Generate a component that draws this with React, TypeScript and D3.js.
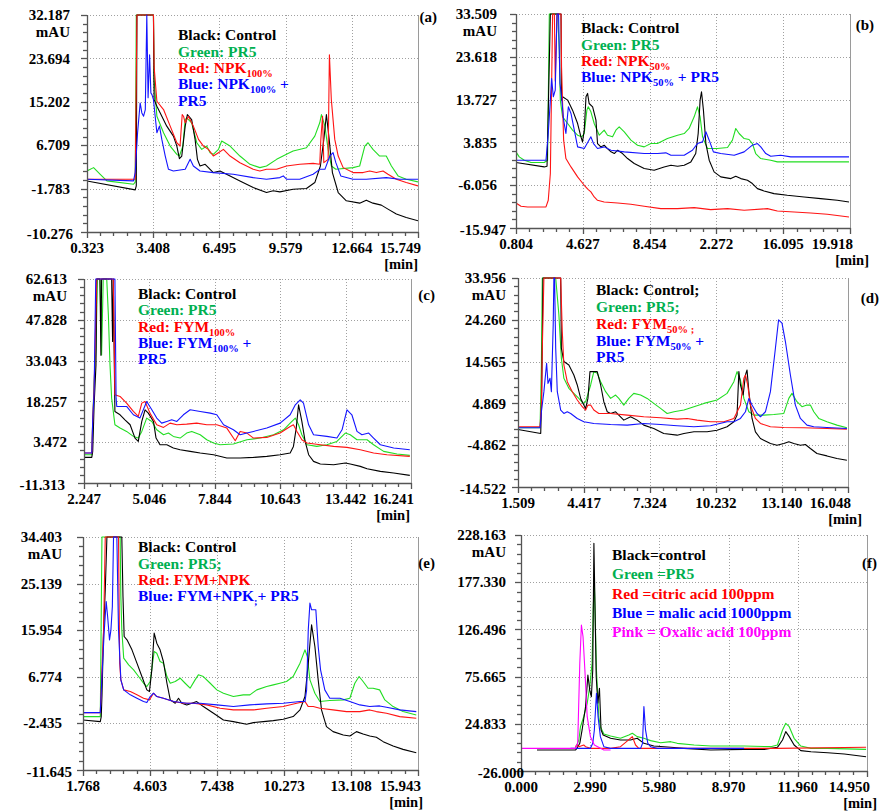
import React, { useEffect, useRef } from 'react';
import * as d3 from 'd3';

type Pt = [number, number];

// ---------- panel (a) ----------
const aXTicks = [0.323, 3.408, 6.495, 9.579, 12.664, 15.749];
const aYTicks = [32.187, 23.694, 15.202, 6.709, -1.783, -10.276];
const aLegend = ['Black: Control', 'Green: PR5', 'Red: NPK~100%~', 'Blue: NPK~100%~ +', 'PR5'];
const aLegendKeys = ['k', 'g', 'r', 'b', 'b'];
const aBlack: Pt[] = [[0.32,-0.28],[2.57,-2.03],[2.62,-1.25],[2.65,32.19],[3.42,32.19],[3.45,15.63],[3.58,14.33],[4.04,10.44],[4.35,8.49],[4.51,6.54],[4.63,4.07],[4.74,4.59],[4.90,10.44],[5.00,12.71],[5.20,11.73],[5.36,7.84],[5.47,3.94],[5.59,2.64],[5.83,2.97],[5.98,2.32],[6.21,1.35],[6.52,1.67],[6.99,0.70],[7.45,-0.28],[8.07,-1.58],[8.69,-2.55],[9.00,-2.22],[9.31,-2.42],[9.93,-1.90],[10.55,-1.77],[10.94,-0.60],[11.20,2.64],[11.36,7.84],[11.48,12.71],[11.61,7.84],[11.76,1.35],[12.03,-2.55],[12.41,-4.17],[13.03,-4.63],[13.34,-4.04],[13.65,-4.63],[14.04,-5.02],[14.35,-5.80],[14.74,-6.77],[15.20,-7.42],[15.75,-8.07]];
const aGreen: Pt[] = [[0.32,1.67],[0.63,2.32],[0.94,1.02],[1.25,-0.28],[2.49,-0.93],[2.57,-0.5],[2.62,32.19],[3.42,32.19],[3.45,19.53],[3.58,12.38],[3.89,9.14],[4.20,6.54],[4.51,4.92],[4.63,4.59],[4.79,6.54],[4.90,11.73],[4.97,12.06],[5.20,11.09],[5.44,7.19],[5.67,5.89],[5.90,6.54],[6.06,5.24],[6.21,4.92],[6.45,5.89],[6.60,7.52],[6.99,6.54],[7.45,4.59],[7.92,2.97],[8.38,2.32],[8.69,2.64],[9.16,3.94],[9.62,4.92],[9.93,5.57],[10.55,6.22],[10.94,8.49],[11.17,11.09],[11.25,12.71],[11.41,10.44],[11.56,5.89],[11.71,2.64],[11.92,1.99],[12.72,2.32],[13.03,2.64],[13.27,6.54],[13.42,7.19],[13.65,5.89],[13.96,4.59],[14.27,4.59],[14.51,2.64],[14.82,0.70],[15.20,0.05],[15.75,-0.47]];
const aRed: Pt[] = [[0.32,0.05],[2.57,0.05],[2.65,32.19],[3.42,32.19],[3.45,22.12],[3.58,15.31],[3.89,13.68],[4.20,10.44],[4.51,7.19],[4.66,6.54],[4.76,12.71],[4.82,12.38],[4.90,11.09],[5.05,12.38],[5.28,10.44],[5.52,7.84],[5.75,6.54],[5.98,5.89],[6.21,4.59],[6.45,5.24],[6.68,5.89],[6.99,4.59],[7.45,3.29],[8.07,1.99],[8.38,1.67],[8.69,1.99],[9.16,1.99],[9.62,2.64],[10.24,2.97],[10.86,3.16],[11.17,2.97],[11.22,7.84],[11.30,12.38],[11.36,3.29],[11.56,3.94],[11.62,24.40],[11.71,15.63],[11.87,7.84],[12.03,4.59],[12.26,2.32],[12.72,1.35],[13.19,1.35],[13.50,1.67],[13.81,1.35],[14.12,1.67],[14.35,1.02],[14.74,0.05],[15.20,-0.60],[15.75,-1.25]];
const aBlue: Pt[] = [[0.32,0.05],[2.49,-0.28],[2.57,1.35],[2.68,9.14],[2.80,14.98],[2.88,13.03],[2.96,12.38],[3.04,13.68],[3.11,32.19],[3.17,16.0],[3.24,24.40],[3.30,16.93],[3.35,16.6],[3.42,15.63],[3.50,12.38],[3.58,9.14],[3.70,10.44],[3.81,7.84],[3.97,4.59],[4.12,1.99],[4.35,1.67],[4.66,1.87],[4.90,1.99],[5.13,3.94],[5.28,2.64],[5.59,1.67],[6.21,1.35],[7.14,1.02],[8.07,0.37],[8.69,0.05],[9.31,0.37],[9.47,0.70],[9.62,0.05],[10.24,0.05],[10.86,1.02],[11.17,1.99],[11.41,1.99],[11.64,4.59],[11.79,5.24],[11.92,3.29],[12.15,0.70],[12.72,0.05],[13.34,0.05],[14.27,0.37],[14.89,0.05],[15.75,0.05]];

// ---------- panel (b) ----------
const bXTicks = [0.804, 4.627, 8.454, 12.272, 16.095, 19.918];
const bXTickText = ['0.804', '4.627', '8.454', '2.272', '16.095', '19.918'];
const bYTicks = [33.509, 23.618, 13.727, 3.835, -6.056, -15.947];
const bLegend = ['Black: Control', 'Green: PR5', 'Red: NPK~50%~', 'Blue: NPK~50%~ + PR5'];
const bLegendKeys = ['k', 'g', 'r', 'b'];
const bBlack: Pt[] = [[0.80,-0.82],[2.42,-1.83],[2.58,-1.67],[2.65,11.29],[2.77,33.51],[3.38,33.51],[3.41,13.61],[3.47,14.38],[3.76,13.61],[4.04,11.29],[4.33,8.20],[4.52,5.12],[4.61,3.96],[4.71,6.66],[4.81,14.38],[4.90,15.15],[4.99,12.83],[5.19,12.06],[5.38,8.98],[5.47,3.57],[5.66,2.80],[5.85,3.19],[6.04,2.42],[6.24,1.65],[6.43,1.26],[6.62,2.03],[6.90,1.26],[7.19,0.10],[7.57,-1.05],[8.14,-2.21],[8.71,-2.60],[9.28,-1.83],[9.67,-1.44],[10.05,-1.67],[10.43,-1.44],[10.81,-0.67],[11.09,1.26],[11.23,5.89],[11.34,13.61],[11.42,15.53],[11.53,11.29],[11.67,3.57],[11.86,-0.28],[12.14,-2.98],[12.52,-4.14],[13.10,-4.53],[13.38,-3.99],[13.67,-4.53],[14.05,-4.91],[14.33,-5.68],[14.62,-6.85],[15.00,-7.38],[15.57,-8.00],[16.33,-8.38],[17.29,-8.77],[18.24,-9.15],[19.19,-9.54],[19.86,-9.93]];
const bGreen: Pt[] = [[0.80,1.65],[0.99,0.49],[1.28,-0.28],[1.66,-0.82],[2.42,-0.82],[2.61,-0.28],[2.71,33.51],[3.19,33.51],[3.28,25.18],[3.34,13.61],[3.47,9.75],[3.76,8.20],[4.04,6.66],[4.33,5.50],[4.56,5.12],[4.71,5.89],[4.86,11.29],[4.94,12.06],[5.09,10.90],[5.28,8.20],[5.57,5.50],[5.85,6.66],[6.04,5.50],[6.33,5.12],[6.52,6.66],[6.71,7.43],[7.00,6.28],[7.38,4.35],[7.76,3.19],[8.14,2.80],[8.52,3.57],[8.90,3.57],[9.47,4.73],[10.05,5.50],[10.43,5.89],[10.71,7.05],[11.00,9.75],[11.19,12.06],[11.34,9.75],[11.48,5.12],[11.76,2.42],[12.33,2.42],[12.91,2.65],[13.19,4.35],[13.38,7.05],[13.57,5.89],[13.86,4.73],[14.14,4.50],[14.33,3.57],[14.52,1.26],[14.81,0.10],[15.38,-0.28],[15.76,-0.67],[19.86,-0.67]];
const bRed: Pt[] = [[0.80,-10.16],[1.09,-10.93],[1.47,-11.08],[2.52,-11.08],[2.65,-9.54],[2.77,-3.37],[2.90,33.51],[3.00,33.51],[3.05,18.0],[3.15,33.51],[3.38,33.51],[3.41,21.32],[3.53,4.35],[3.66,0.10],[3.95,-1.83],[4.33,-4.14],[4.71,-6.07],[4.94,-7.07],[5.09,-7.61],[5.28,-8.77],[5.47,-9.54],[5.85,-9.93],[6.62,-10.16],[7.38,-10.47],[8.14,-10.93],[9.09,-11.47],[10.05,-11.47],[11.00,-11.24],[11.95,-11.70],[12.91,-11.47],[13.86,-11.86],[15.19,-11.47],[15.76,-12.01],[16.72,-12.24],[17.67,-12.47],[18.62,-12.78],[19.86,-13.40]];
const bBlue: Pt[] = [[0.80,-0.28],[2.52,-0.28],[2.65,5.89],[2.77,13.61],[2.84,18.62],[2.94,14.38],[3.05,15.92],[3.15,33.51],[3.24,33.51],[3.32,17.46],[3.41,14.38],[3.53,8.98],[3.66,5.89],[3.80,12.06],[3.95,10.52],[4.14,6.66],[4.33,2.80],[4.71,2.42],[5.09,5.12],[5.24,3.57],[5.47,2.42],[5.85,2.80],[6.24,2.03],[7.00,1.65],[8.14,1.26],[8.90,1.26],[9.38,1.42],[9.67,0.88],[10.43,0.88],[10.90,2.03],[11.19,3.57],[11.48,3.96],[11.67,6.28],[11.86,4.35],[12.10,1.65],[12.52,1.26],[13.29,0.88],[13.86,1.65],[14.33,3.19],[14.62,3.57],[14.81,2.80],[15.10,1.26],[15.38,0.64],[15.95,0.88],[16.53,0.49],[17.67,0.49],[19.86,0.49]];

// ---------- panel (c) ----------
const cXTicks = [2.247, 5.046, 7.844, 10.643, 13.442, 16.241];
const cYTicks = [62.613, 47.828, 33.043, 18.257, 3.472, -11.313];
const cLegend = ['Black: Control', 'Green: PR5', 'Red: FYM~100%~', 'Blue: FYM~100%~ +', 'PR5'];
const cLegendKeys = ['k', 'g', 'r', 'b', 'b'];
const cBlack: Pt[] = [[2.25,-2.03],[2.58,-2.03],[2.62,0.14],[2.68,17.03],[2.76,31.50],[2.79,62.61],[2.93,62.61],[2.97,35.0],[3.00,62.61],[3.43,62.61],[3.47,40.0],[3.50,62.61],[3.57,14.61],[3.79,13.41],[4.00,11.60],[4.22,9.79],[4.43,4.97],[4.57,3.76],[4.72,11.00],[4.86,15.22],[5.00,14.01],[5.22,11.00],[5.33,4.97],[5.50,2.55],[5.79,2.55],[6.07,1.35],[6.36,0.75],[6.79,0.14],[7.22,-0.46],[7.79,-1.06],[8.36,-2.27],[8.93,-2.27],[9.50,-2.03],[10.07,-1.67],[10.64,-1.06],[11.07,-0.46],[11.21,1.95],[11.33,8.59],[11.43,17.03],[11.57,11.00],[11.71,3.76],[11.86,-1.06],[12.07,-3.48],[12.36,-4.45],[12.93,-4.68],[13.43,-4.08],[13.64,-4.45],[14.07,-5.29],[14.36,-6.13],[14.93,-7.09],[15.50,-7.70],[16.19,-8.54]];
const cGreen: Pt[] = [[2.25,-1.06],[2.58,-1.06],[2.62,11.0],[2.68,25.47],[2.76,37.53],[2.82,62.61],[2.93,62.61],[3.00,35.12],[3.07,62.61],[3.22,62.61],[3.29,49.59],[3.36,31.50],[3.43,19.44],[3.57,9.79],[3.79,8.59],[4.07,7.38],[4.36,5.57],[4.57,4.97],[4.72,7.38],[4.93,12.21],[5.15,11.00],[5.36,7.98],[5.65,6.17],[5.86,6.78],[6.07,5.57],[6.36,4.97],[6.64,6.78],[6.86,7.38],[7.22,6.17],[7.50,4.36],[7.79,3.16],[8.07,2.55],[8.64,2.80],[9.22,4.36],[9.79,4.97],[10.36,6.17],[10.79,7.98],[11.07,10.39],[11.29,12.21],[11.43,9.79],[11.57,6.17],[11.79,2.55],[12.21,1.95],[12.64,2.55],[13.07,3.76],[13.43,6.78],[13.64,6.17],[13.93,4.36],[14.36,4.36],[14.64,2.55],[15.07,0.14],[15.64,-0.82],[16.19,-1.31]];
const cRed: Pt[] = [[2.25,-0.46],[2.58,-0.46],[2.62,11.60],[2.68,23.06],[2.79,62.61],[3.50,62.61],[3.57,20.64],[3.79,20.04],[4.07,17.63],[4.36,14.61],[4.57,12.81],[4.72,17.63],[4.86,18.23],[5.07,14.01],[5.36,9.79],[5.65,8.83],[5.93,10.39],[6.22,9.79],[6.64,10.03],[7.07,10.39],[7.50,9.79],[7.93,9.79],[8.36,8.59],[8.72,4.00],[8.93,7.38],[9.22,6.78],[9.50,4.97],[10.07,5.21],[10.64,6.78],[11.07,9.19],[11.21,9.79],[11.36,7.38],[11.57,4.36],[11.79,3.16],[12.36,2.55],[12.93,1.95],[13.50,1.59],[14.07,0.75],[14.64,-0.46],[15.21,-1.06],[16.19,-1.67]];
const cBlue: Pt[] = [[2.25,-0.46],[2.58,-0.46],[2.62,11.60],[2.68,21.85],[2.75,62.61],[3.57,62.61],[3.62,19.44],[3.65,16.42],[4.07,16.42],[4.36,13.41],[4.64,12.21],[4.93,18.23],[5.15,15.22],[5.36,12.21],[5.57,10.39],[5.79,11.00],[6.00,11.60],[6.22,11.00],[6.50,13.41],[6.79,15.22],[7.22,14.61],[7.65,14.01],[7.93,13.41],[8.22,9.79],[8.64,7.98],[8.93,6.17],[9.22,6.78],[9.50,7.38],[10.07,8.59],[10.64,10.39],[11.07,13.41],[11.29,17.03],[11.50,18.84],[11.64,17.63],[11.86,9.79],[12.07,6.17],[12.64,5.57],[13.07,4.97],[13.29,7.98],[13.50,15.22],[13.71,13.41],[13.93,7.38],[14.14,6.17],[14.43,6.78],[14.64,4.97],[14.93,2.55],[15.50,1.35],[16.19,0.75]];

// ---------- panel (d) ----------
const dXTicks = [1.509, 4.417, 7.324, 10.232, 13.140, 16.048];
const dYTicks = [33.956, 24.260, 14.565, 4.869, -4.862, -14.522];
const dLegend = ['Black: Control;', 'Green: PR5;', 'Red: FYM~50% ;~', 'Blue: FYM~50%~ +', 'PR5'];
const dLegendKeys = ['k', 'g', 'r', 'b', 'b'];
const dBlack: Pt[] = [[1.51,-1.18],[2.51,-2.11],[2.55,6.03],[2.61,33.96],[3.39,33.96],[3.42,17.67],[3.53,14.57],[3.75,13.79],[3.97,11.46],[4.12,9.14],[4.27,6.03],[4.41,4.48],[4.49,3.71],[4.59,6.03],[4.68,12.24],[4.78,12.24],[5.00,12.24],[5.15,9.14],[5.29,5.26],[5.44,2.93],[5.59,2.54],[5.81,2.93],[5.95,2.15],[6.17,0.99],[6.47,1.77],[6.76,0.99],[7.05,-0.17],[7.49,-0.95],[7.93,-2.11],[8.52,-2.50],[8.82,-2.11],[9.26,-1.72],[9.84,-1.72],[10.28,-1.34],[10.72,-0.56],[11.02,0.60],[11.16,2.15],[11.24,12.24],[11.31,9.14],[11.43,6.81],[11.53,11.46],[11.60,12.63],[11.68,7.59],[11.82,1.38],[11.97,-1.72],[12.19,-3.27],[12.63,-4.44],[12.92,-4.83],[13.22,-4.44],[13.44,-4.05],[13.66,-4.44],[13.95,-4.83],[14.17,-4.67],[14.39,-5.60],[14.68,-6.76],[15.12,-7.31],[15.56,-7.93],[16.00,-8.32]];
const dGreen: Pt[] = [[1.51,-0.79],[2.48,-0.79],[2.54,13.79],[2.58,33.96],[3.17,33.96],[3.31,25.42],[3.42,15.34],[3.53,10.69],[3.75,8.36],[3.97,7.20],[4.19,6.03],[4.38,4.87],[4.49,5.26],[4.71,9.14],[4.85,12.24],[5.00,11.85],[5.15,9.91],[5.37,7.59],[5.59,6.03],[5.81,6.81],[5.95,6.03],[6.17,4.48],[6.39,6.03],[6.61,7.20],[6.91,6.81],[7.20,6.03],[7.49,4.87],[7.79,3.71],[8.08,2.54],[8.38,2.93],[8.82,3.32],[9.26,4.10],[9.70,4.87],[10.28,5.65],[10.72,7.20],[11.02,9.91],[11.16,12.24],[11.31,10.30],[11.46,6.03],[11.68,2.93],[11.90,2.15],[12.34,2.15],[12.78,2.31],[13.22,2.54],[13.44,6.03],[13.58,7.20],[13.80,5.26],[14.02,4.10],[14.24,4.48],[14.39,4.48],[14.54,2.93],[14.76,1.38],[15.12,0.60],[15.56,-0.17],[16.00,-0.79]];
const dRed: Pt[] = [[1.51,-0.56],[2.48,-0.56],[2.54,4.48],[2.58,17.67],[2.65,33.96],[3.39,33.96],[3.46,21.55],[3.53,13.79],[3.68,9.91],[3.90,7.59],[4.12,5.65],[4.34,4.10],[4.49,3.32],[4.59,4.48],[4.71,4.48],[4.85,3.32],[5.07,2.54],[5.59,2.54],[6.32,2.15],[7.05,1.77],[7.79,1.53],[8.52,1.22],[8.96,1.38],[9.40,0.99],[9.99,0.60],[10.58,0.60],[11.02,1.38],[11.31,4.48],[11.46,10.69],[11.53,11.46],[11.63,9.14],[11.75,4.48],[11.97,1.38],[12.19,0.22],[12.63,-0.56],[13.22,-0.71],[14.10,-0.79],[15.12,-0.95],[16.00,-1.10]];
const dBlue: Pt[] = [[1.51,-0.79],[2.48,-0.79],[2.54,2.93],[2.65,7.59],[2.77,14.18],[2.83,9.52],[2.92,10.69],[2.98,7.59],[3.06,23.10],[3.09,33.96],[3.12,33.96],[3.17,17.67],[3.24,7.59],[3.39,3.32],[3.53,2.54],[3.68,2.93],[3.83,2.54],[4.12,1.38],[4.41,0.60],[4.85,0.22],[5.59,-0.02],[6.32,-0.17],[7.05,0.22],[7.79,-0.02],[8.52,-0.33],[9.26,-0.56],[9.99,-0.33],[10.72,0.60],[11.02,0.60],[11.31,1.38],[11.53,2.93],[11.68,6.03],[11.82,4.48],[12.04,2.54],[12.19,1.77],[12.41,2.93],[12.63,7.59],[12.85,17.67],[12.99,24.26],[13.14,23.48],[13.29,19.22],[13.51,11.46],[13.73,4.48],[13.95,1.38],[14.24,-0.17],[14.54,-0.56],[15.12,-0.71],[16.00,-0.95]];

// ---------- panel (e) ----------
const eXTicks = [1.768, 4.603, 7.438, 10.273, 13.108, 15.943];
const eYTicks = [34.403, 25.139, 15.954, 6.774, -2.435, -11.645];
const eLegend = ['Black: Control', 'Green: PR5;', 'Red: FYM+NPK', 'Blue: FYM+NPK~;~+ PR5'];
const eLegendKeys = ['k', 'g', 'r', 'b'];
const eBlack: Pt[] = [[1.77,-1.75],[2.50,-2.08],[2.54,-1.09],[2.57,2.87],[2.64,16.06],[2.71,23.98],[2.78,34.40],[3.41,34.40],[3.46,22.66],[3.51,14.74],[3.63,14.08],[3.84,12.10],[4.05,9.47],[4.26,6.83],[4.47,4.19],[4.58,3.86],[4.68,8.15],[4.78,15.40],[4.89,13.42],[5.03,12.10],[5.17,9.80],[5.32,5.50],[5.46,2.21],[5.67,1.55],[5.81,2.54],[5.95,1.55],[6.16,1.22],[6.37,1.55],[6.58,1.88],[6.86,0.89],[7.29,-0.43],[7.71,-1.75],[8.13,-2.08],[8.69,-2.61],[8.98,-2.28],[9.40,-2.08],[9.82,-1.88],[10.24,-1.62],[10.66,-1.09],[10.95,0.23],[11.16,2.87],[11.30,9.47],[11.44,17.05],[11.58,12.76],[11.72,6.17],[11.86,0.23],[12.07,-3.07],[12.35,-4.06],[12.78,-4.72],[13.06,-4.92],[13.34,-4.06],[13.62,-4.52],[13.90,-4.92],[14.18,-5.18],[14.47,-6.04],[14.89,-6.90],[15.31,-7.57],[15.87,-8.23]];
const eGreen: Pt[] = [[1.77,-1.09],[2.50,-1.09],[2.57,34.40],[3.34,34.40],[3.37,22.66],[3.41,16.06],[3.49,10.46],[3.70,9.14],[3.91,8.15],[4.12,6.83],[4.33,5.50],[4.47,4.85],[4.61,5.84],[4.78,11.77],[4.89,11.44],[5.03,9.80],[5.17,9.47],[5.32,6.83],[5.46,5.50],[5.67,5.84],[5.88,6.50],[6.09,5.50],[6.30,4.52],[6.51,6.17],[6.65,7.16],[6.86,6.83],[7.15,5.50],[7.43,4.19],[7.71,3.53],[8.13,2.87],[8.55,3.21],[8.83,3.21],[9.12,4.19],[9.54,4.85],[9.82,5.18],[10.10,5.50],[10.38,5.84],[10.66,6.83],[10.95,9.47],[11.16,12.10],[11.26,10.78],[11.37,6.17],[11.58,3.53],[11.79,1.88],[12.21,2.08],[12.78,2.21],[13.06,2.54],[13.27,5.50],[13.45,6.83],[13.62,5.84],[13.83,4.52],[14.04,4.52],[14.32,4.19],[14.54,2.21],[14.89,0.89],[15.31,-0.10],[15.87,-0.76]];
const eRed: Pt[] = [[1.77,-0.30],[2.50,-0.30],[2.57,8.15],[2.64,16.06],[2.71,34.40],[3.27,34.40],[3.32,9.47],[3.37,6.17],[3.49,4.19],[3.77,3.86],[4.05,3.21],[4.33,2.54],[4.58,2.21],[4.75,3.53],[4.89,2.87],[5.17,2.54],[5.60,1.88],[6.02,1.55],[6.44,1.55],[7.00,1.22],[7.57,0.56],[8.13,0.23],[8.98,0.23],[9.54,0.56],[10.24,0.89],[10.81,1.55],[11.16,1.88],[11.30,0.89],[11.51,0.89],[11.79,0.56],[12.35,0.23],[12.92,-0.10],[13.48,-0.10],[13.90,0.23],[14.18,-0.10],[14.61,-0.43],[15.17,-1.09],[15.87,-1.42]];
const eBlue: Pt[] = [[1.77,-0.30],[2.50,-0.30],[2.57,6.83],[2.67,16.06],[2.75,21.67],[2.81,18.70],[2.89,14.08],[2.95,16.06],[3.01,20.68],[3.06,34.40],[3.20,34.40],[3.27,16.06],[3.37,6.17],[3.49,4.19],[3.77,3.21],[4.05,2.54],[4.33,1.88],[4.47,1.68],[4.61,2.87],[4.75,3.53],[4.89,2.87],[5.17,2.54],[5.60,1.88],[6.16,1.55],[6.72,1.55],[7.43,1.22],[8.13,0.89],[8.83,1.22],[9.54,1.42],[10.24,1.55],[10.95,1.88],[11.16,1.88],[11.23,4.19],[11.30,16.06],[11.37,21.34],[11.44,20.02],[11.62,20.02],[11.72,12.76],[11.82,8.15],[12.00,4.19],[12.21,2.54],[12.64,2.54],[13.06,1.88],[13.48,1.22],[13.90,0.89],[14.32,1.02],[14.61,0.76],[15.17,0.23],[15.87,-0.10]];

// ---------- panel (f) ----------
const fXTicks = [0.0, 2.99, 5.98, 8.97, 11.96, 14.95];
const fYTicks = [228.163, 177.33, 126.496, 75.665, 24.833, -26.0];
const fLegend = ['Black=control', 'Green =PR5', 'Red =citric acid 100ppm', 'Blue = malic acid 1000ppm', 'Pink = Oxalic acid 100ppm'];
const fLegendKeys = ['k', 'g', 'r', 'b', 'p'];
const fBlack: Pt[] = [[0.69,-3.4],[2.35,-3.4],[2.42,-1.6],[2.54,3.8],[2.64,18.2],[2.79,43.3],[2.89,77.4],[2.97,61.2],[3.04,54.0],[3.10,82.8],[3.15,219.2],[3.19,161.8],[3.25,75.6],[3.32,46.9],[3.39,63.0],[3.46,18.2],[3.55,12.8],[3.87,9.2],[4.30,7.4],[4.73,7.4],[5.02,9.2],[5.31,3.8],[5.74,0.9],[6.47,-0.5],[7.04,-1.6],[8.20,-3.4],[9.64,-2.7],[10.51,-2.7],[11.08,-0.5],[11.30,7.4],[11.44,16.4],[11.59,11.0],[11.80,2.0],[12.09,-4.1],[12.53,-5.2],[13.25,-6.3],[13.97,-7.7],[14.91,-10.6]];
const fGreen: Pt[] = [[2.35,-1.6],[2.50,7.4],[2.57,21.7],[2.71,32.5],[2.86,46.9],[2.97,64.8],[3.07,89.9],[3.12,149.2],[3.17,176.1],[3.26,82.8],[3.36,32.5],[3.43,21.7],[3.58,13.8],[3.87,11.7],[4.30,9.2],[4.66,12.8],[4.81,14.6],[5.02,11.0],[5.31,9.2],[5.60,6.7],[6.03,4.5],[6.47,5.6],[6.75,3.8],[7.48,2.0],[8.20,0.9],[9.64,0.9],[10.79,0.2],[11.08,2.0],[11.30,18.2],[11.44,25.3],[11.59,21.7],[11.80,9.2],[12.09,0.9],[12.53,-1.6],[13.25,-1.6],[14.91,-2.7]];
const fRed: Pt[] = [[2.35,0.2],[2.42,2.0],[2.50,0.2],[2.71,2.0],[2.79,0.2],[3.00,-1.6],[3.87,-1.6],[4.30,0.2],[4.56,5.6],[4.81,11.0],[4.95,2.0],[5.09,-1.6],[6.75,-1.6],[11.08,-1.6],[14.91,-0.5]];
const fBlue: Pt[] = [[2.14,-1.6],[3.00,-1.6],[3.10,3.8],[3.17,18.2],[3.26,57.6],[3.33,32.5],[3.43,11.0],[3.58,0.2],[3.87,-1.6],[5.17,-1.6],[5.25,3.8],[5.31,43.3],[5.38,18.2],[5.48,3.8],[5.60,0.2],[5.89,-1.6],[6.75,-1.6],[9.64,-1.6]];
const fPink: Pt[] = [[0.0,-1.6],[2.35,-1.6],[2.45,3.8],[2.54,89.9],[2.61,131.2],[2.68,118.7],[2.76,82.8],[2.86,32.5],[3.00,11.0],[3.17,2.0],[3.58,-3.4],[3.87,-3.4]];

// ---------- styles / layout ----------
const FONT = '"Liberation Serif", "Times New Roman", serif';
const LINE_COLORS: Record<string, string> = { k: '#000000', g: '#22dd22', r: '#ff1414', b: '#1414ff', p: '#ff00ff' };
const TEXT_COLORS: Record<string, string> = { k: '#000000', g: '#00b050', r: '#ff0000', b: '#0000ff', p: '#ff00ff' };

const PANELS = [
  { letter: '(a)', xTicks: aXTicks, xText: null, yTicks: aYTicks, legend: aLegend, legendKeys: aLegendKeys,
    series: [['g', aGreen], ['k', aBlack], ['r', aRed], ['b', aBlue]],
    box: { left: 87, right: 418, top: 15, bottom: 232 }, gap: 17, bottomGap: 14, minDx: 0,
    letterPos: [437, 17], legendPos: [178, 35, 16.4] },
  { letter: '(b)', xTicks: bXTicks, xText: bXTickText, yTicks: bYTicks, legend: bLegend, legendKeys: bLegendKeys,
    series: [['g', bGreen], ['k', bBlack], ['r', bRed], ['b', bBlue]],
    box: { left: 516, right: 850, top: 14, bottom: 228 }, gap: 19, bottomGap: 10, minDx: 19,
    letterPos: [874, 25], legendPos: [581, 28, 16.4] },
  { letter: '(c)', xTicks: cXTicks, xText: null, yTicks: cYTicks, legend: cLegend, legendKeys: cLegendKeys,
    series: [['g', cGreen], ['k', cBlack], ['r', cRed], ['b', cBlue]],
    box: { left: 84, right: 411, top: 279, bottom: 483 }, gap: 17, bottomGap: 19, minDx: -1,
    letterPos: [435, 295], legendPos: [138, 294, 16.2] },
  { letter: '(d)', xTicks: dXTicks, xText: null, yTicks: dYTicks, legend: dLegend, legendKeys: dLegendKeys,
    series: [['g', dGreen], ['k', dBlack], ['r', dRed], ['b', dBlue]],
    box: { left: 518, right: 848, top: 278, bottom: 487 }, gap: 12, bottomGap: 12, minDx: 14,
    letterPos: [879, 298], legendPos: [596, 290, 16.8] },
  { letter: '(e)', xTicks: eXTicks, xText: null, yTicks: eYTicks, legend: eLegend, legendKeys: eLegendKeys,
    series: [['g', eGreen], ['k', eBlack], ['r', eRed], ['b', eBlue]],
    box: { left: 83, right: 418, top: 537, bottom: 770 }, gap: 21, bottomGap: 11, minDx: 5,
    letterPos: [435, 563], legendPos: [138, 547, 16.4] },
  { letter: '(f)', xTicks: fXTicks, xText: null, yTicks: fYTicks, legend: fLegend, legendKeys: fLegendKeys,
    series: [['g', fGreen], ['k', fBlack], ['r', fRed], ['b', fBlue], ['p', fPink]],
    box: { left: 521, right: 867, top: 535, bottom: 771 }, gap: 15, bottomGap: -3, minDx: 10,
    letterPos: [877, 563], legendPos: [612, 555, 19.2] },
];

function drawPanel(svg: any, p: any, idx: number) {
  const { box } = p;
  const xt: number[] = p.xTicks;
  const yt: number[] = p.yTicks;
  const x = d3.scaleLinear().domain([xt[0], xt[xt.length - 1]]).range([box.left, box.right]);
  const y = d3.scaleLinear().domain([yt[yt.length - 1], yt[0]]).range([box.bottom, box.top]);
  const px = (v: number) => Math.round(x(v)) + 0.5;
  const py = (v: number) => Math.round(y(v)) + 0.5;

  const g = svg.append('g');

  // dotted grid (incl. top border)
  const grid = g.append('g').attr('stroke', '#a0a0a0').attr('stroke-width', 1).attr('stroke-dasharray', '1,2');
  yt.slice(0, -1).forEach((v) => {
    grid.append('line').attr('x1', box.left).attr('x2', box.right).attr('y1', py(v)).attr('y2', py(v));
  });
  xt.slice(1, -1).forEach((v) => {
    grid.append('line').attr('x1', px(v)).attr('x2', px(v)).attr('y1', box.top).attr('y2', box.bottom);
  });
  // right border
  g.append('line').attr('x1', px(xt[xt.length - 1])).attr('x2', px(xt[xt.length - 1]))
    .attr('y1', box.top).attr('y2', box.bottom).attr('stroke', '#9a9a9a');

  // traces
  const clipId = `clip-${idx}`;
  svg.append('clipPath').attr('id', clipId).append('rect')
    .attr('x', box.left).attr('y', box.top - 1).attr('width', box.right - box.left).attr('height', box.bottom - box.top + 1);
  const line = d3.line<Pt>().x((d) => x(d[0])).y((d) => y(d[1]));
  const traces = g.append('g').attr('clip-path', `url(#${clipId})`);
  p.series.forEach(([key, data]: [string, Pt[]]) => {
    traces.append('path').attr('d', line(data)).attr('fill', 'none')
      .attr('stroke', LINE_COLORS[key]).attr('stroke-width', 1.1).attr('stroke-linejoin', 'round');
  });

  // axes
  const axis = g.append('g').attr('stroke', '#555').attr('stroke-width', 1.3);
  axis.append('line').attr('x1', box.left + 0.5).attr('x2', box.left + 0.5).attr('y1', box.top).attr('y2', box.bottom + 1);
  axis.append('line').attr('x1', box.left).attr('x2', box.right + 0.5).attr('y1', box.bottom + 0.5).attr('y2', box.bottom + 0.5);
  yt.forEach((v, i) => {
    axis.append('line').attr('x1', box.left - 6).attr('x2', box.left).attr('y1', py(v)).attr('y2', py(v));
    if (i < yt.length - 1) {
      for (let k = 1; k < 5; k++) {
        const m = v + (yt[i + 1] - v) * k / 5;
        axis.append('line').attr('x1', box.left - 4).attr('x2', box.left).attr('y1', py(m)).attr('y2', py(m));
      }
    }
  });
  xt.forEach((v, i) => {
    axis.append('line').attr('x1', px(v)).attr('x2', px(v)).attr('y1', box.bottom).attr('y2', box.bottom + 6);
    if (i < xt.length - 1) {
      for (let k = 1; k < 5; k++) {
        const m = v + (xt[i + 1] - v) * k / 5;
        axis.append('line').attr('x1', px(m)).attr('x2', px(m)).attr('y1', box.bottom).attr('y2', box.bottom + 4);
      }
    }
  });

  const text = g.append('g').attr('font-family', FONT).attr('font-weight', 'bold').attr('fill', '#000');
  // y tick labels
  yt.forEach((v, i) => {
    const last = i === yt.length - 1;
    text.append('text')
      .attr('x', box.left - (last ? p.bottomGap : p.gap))
      .attr('y', y(v) + (last ? 2 : 0))
      .attr('dy', '0.34em')
      .attr('text-anchor', 'end')
      .attr('font-size', 15)
      .text(v.toFixed(3));
  });
  text.append('text').attr('x', box.left - p.gap).attr('y', box.top + 17).attr('dy', '0.34em')
    .attr('text-anchor', 'end').attr('font-size', 15).text('mAU');
  // x tick labels
  xt.forEach((v, i) => {
    const last = i === xt.length - 1;
    text.append('text')
      .attr('x', last ? x(v) + 3 : x(v))
      .attr('y', box.bottom + 16)
      .attr('dy', '0.34em')
      .attr('text-anchor', last ? 'end' : 'middle')
      .attr('font-size', 15)
      .text(p.xText ? p.xText[i] : v.toFixed(3));
  });
  text.append('text').attr('x', box.right + p.minDx).attr('y', box.bottom + 32).attr('dy', '0.34em')
    .attr('text-anchor', 'end').attr('font-size', 14.5).text('[min]');
  text.append('text').attr('x', p.letterPos[0]).attr('y', p.letterPos[1]).attr('dy', '0.34em')
    .attr('text-anchor', 'end').attr('font-size', 15).text(p.letter);

  // legend
  const [lx, ly, ldy] = p.legendPos;
  p.legend.forEach((label: string, i: number) => {
    const t = text.append('text').attr('x', lx).attr('y', ly + i * ldy + 5.2)
      .attr('font-size', 15.5).attr('fill', TEXT_COLORS[p.legendKeys[i]]);
    const parts = label.split('~');
    let shifted = false;
    parts.forEach((part, j) => {
      if (!part) return;
      const sub = j % 2 === 1;
      const ts = t.append('tspan').text(part);
      if (sub) { ts.attr('font-size', 10.5).attr('dy', 4); shifted = true; }
      else if (shifted) { ts.attr('dy', -4); shifted = false; }
    });
  });
}

export default function App() {
  const svgRef = useRef<SVGSVGElement>(null);

  useEffect(() => {
    const svg = d3.select(svgRef.current);
    svg.selectAll('*').remove();
    svg.append('rect').attr('width', 888).attr('height', 811).attr('fill', '#fff');
    PANELS.forEach((p, i) => drawPanel(svg, p, i));
  }, []);

  return (
    <svg ref={svgRef} width={888} height={811}
      style={{ position: 'absolute', left: 0, top: 0, display: 'block' }} />
  );
}
